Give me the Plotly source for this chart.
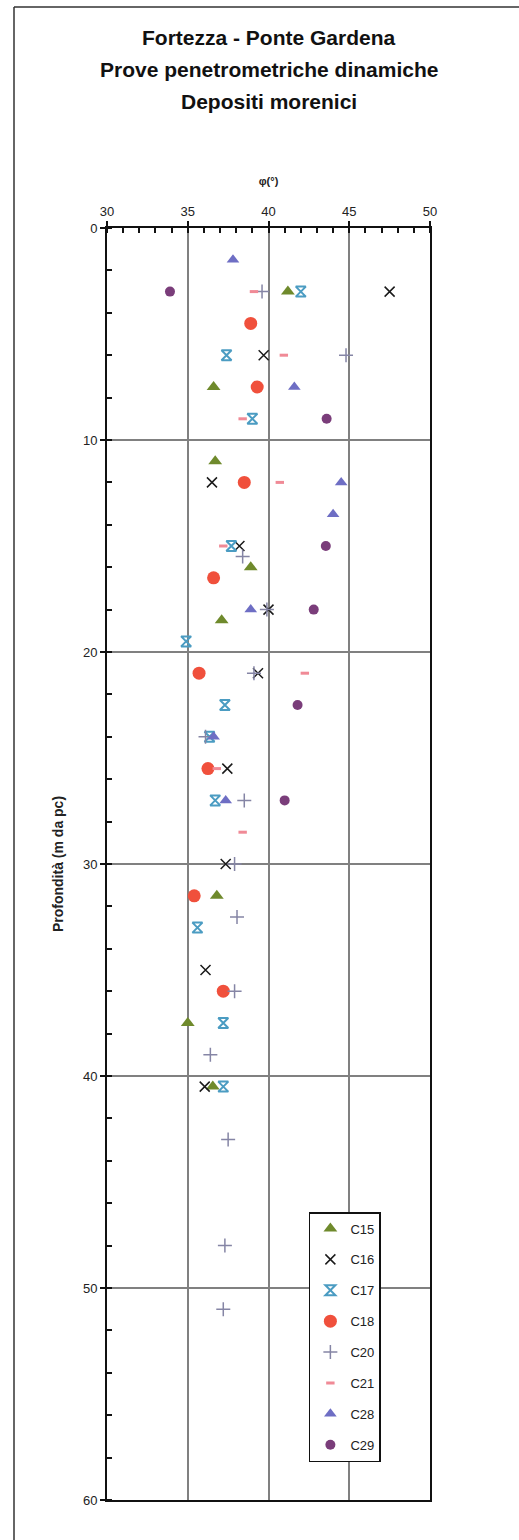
import plotly.graph_objects as go

# Friction angle phi (degrees) against depth (m below ground level) per test
c15_phi = [41.2, 36.6, 36.7, 38.9, 37.1, 36.8, 35.0, 36.55]
c15_depth = [3.0, 7.5, 11.0, 16.0, 18.5, 31.5, 37.5, 40.5]

c16_phi = [47.5, 39.7, 36.5, 38.2, 40.0, 39.35, 37.45, 37.35, 36.1, 36.05]
c16_depth = [3.0, 6.0, 12.0, 15.0, 18.0, 21.0, 25.5, 30.0, 35.0, 40.5]

c17_phi = [42.0, 37.4, 39.0, 37.7, 34.9, 37.3, 36.35, 36.7, 35.6, 37.2, 37.2]
c17_depth = [3.0, 6.0, 9.0, 15.0, 19.5, 22.5, 24.0, 27.0, 33.0, 37.5, 40.5]

c18_phi = [38.9, 39.3, 38.5, 36.6, 35.7, 36.25, 35.4, 37.2]
c18_depth = [4.5, 7.5, 12.0, 16.5, 21.0, 25.5, 31.5, 36.0]

c20_phi = [39.6, 44.8, 38.4, 39.9, 39.1, 36.1, 38.5, 37.9, 38.05, 37.9, 36.4, 37.5, 37.3, 37.2]
c20_depth = [3.0, 6.0, 15.5, 18.0, 21.0, 24.0, 27.0, 30.0, 32.5, 36.0, 39.0, 43.0, 48.0, 51.0]

c21_phi = [39.1, 40.95, 38.4, 40.7, 37.2, 42.25, 36.8, 38.4]
c21_depth = [3.0, 6.0, 9.0, 12.0, 15.0, 21.0, 25.5, 28.5]

c28_phi = [37.8, 41.6, 44.5, 44.0, 38.9, 36.6, 37.35]
c28_depth = [1.5, 7.5, 12.0, 13.5, 18.0, 24.0, 27.0]

c29_phi = [33.9, 43.6, 43.55, 42.8, 41.8, 41.0]
c29_depth = [3.0, 9.0, 15.0, 18.0, 22.5, 27.0]

x_ticks = [30, 35, 40, 45, 50]
y_ticks = [0, 10, 20, 30, 40, 50, 60]

title_lines = ["Fortezza - Ponte Gardena", "Prove penetrometriche dinamiche", "Depositi morenici"]

series = [
    ("C15", c15_phi, c15_depth, dict(symbol="triangle-up", size=12, color="#6f8a2c")),
    ("C16", c16_phi, c16_depth, dict(symbol="x-thin-open", size=10, color="#1a1a1a",
                                     line=dict(width=1.5))),
    ("C17", c17_phi, c17_depth, dict(symbol="hourglass-open", size=10, color="#4b9cc2",
                                     line=dict(width=2))),
    ("C18", c18_phi, c18_depth, dict(symbol="circle", size=13, color="#f0503c")),
    ("C20", c20_phi, c20_depth, dict(symbol="cross-thin-open", size=10, color="#8585a5",
                                     line=dict(width=1.5))),
    ("C21", c21_phi, c21_depth, dict(symbol="line-ew-open", size=6, color="#f08a96",
                                     line=dict(width=3))),
    ("C28", c28_phi, c28_depth, dict(symbol="triangle-up", size=11, color="#6e6ec4")),
    ("C29", c29_phi, c29_depth, dict(symbol="circle", size=10, color="#7a3d7a")),
]

fig = go.Figure()
for name, xs, ys, marker in series:
    fig.add_trace(go.Scatter(x=xs, y=ys, mode="markers", name=name,
                             marker=marker, legendgroup=name))

family = "Liberation Sans, Arial, sans-serif"
axis_font = dict(family=family, size=13, color="#222")

fig.update_layout(
    width=519, height=1540,
    margin=dict(l=107, r=89, t=228, b=40),
    paper_bgcolor="white", plot_bgcolor="white",
    font=dict(family=family, color="#222"),
    showlegend=True,
    legend=dict(
        x=0.625, y=0.2264, xanchor="left", yanchor="top",
        bgcolor="white", bordercolor="#111", borderwidth=1.5,
        font=dict(family=family, size=13, color="#222"),
        tracegroupgap=11, itemwidth=30,
    ),
)

# Three-line chart title, one annotation per line for even spacing
plot_top, plot_h = 228, 1272
for i, line in enumerate(title_lines):
    y_px = 38 + 31.5 * i
    fig.add_annotation(
        text=f"<b>{line}</b>", xref="paper", yref="paper",
        x=0.5, y=(plot_top + plot_h - y_px) / plot_h,
        xanchor="center", yanchor="middle", showarrow=False,
        font=dict(family=family, size=21, color="#111"),
    )

fig.update_xaxes(
    range=[30, 50], side="top", tickvals=x_ticks,
    ticks="outside", ticklen=5, tickwidth=1.5, tickcolor="#111",
    minor=dict(dtick=1, ticks="inside", ticklen=5, tickwidth=1.5, tickcolor="#111",
               showgrid=False),
    showline=True, linecolor="#111", linewidth=2, mirror=True,
    showgrid=True, gridcolor="#808080", gridwidth=2,
    tickfont=axis_font, zeroline=False,
    title=dict(text="<b>φ(°)</b>", standoff=16,
               font=dict(family=family, size=11, color="#222")),
)
fig.update_yaxes(
    range=[60, 0], tickvals=y_ticks,
    ticks="outside", ticklen=5, tickwidth=1.5, tickcolor="#111",
    minor=dict(dtick=2, ticks="inside", ticklen=5, tickwidth=1.5, tickcolor="#111",
               showgrid=False),
    showline=True, linecolor="#111", linewidth=2, mirror=True,
    showgrid=True, gridcolor="#808080", gridwidth=2,
    tickfont=axis_font, zeroline=False,
    title=dict(text="<b>Profondità (m da pc)</b>", standoff=16,
               font=dict(family=family, size=14, color="#222")),
)

# Page frame: left edge and top edge
fig.add_shape(type="line", xref="paper", yref="paper",
              x0=(14 - 107) / 323, x1=(14 - 107) / 323,
              y0=(1500 - 1540) / 1272, y1=(1500 - 7) / 1272,
              line=dict(color="#333", width=1.5))
fig.add_shape(type="line", xref="paper", yref="paper",
              x0=(14 - 107) / 323, x1=(519 - 107) / 323,
              y0=(1500 - 7) / 1272, y1=(1500 - 7) / 1272,
              line=dict(color="#333", width=1.5))

fig.write_html("out.html")
